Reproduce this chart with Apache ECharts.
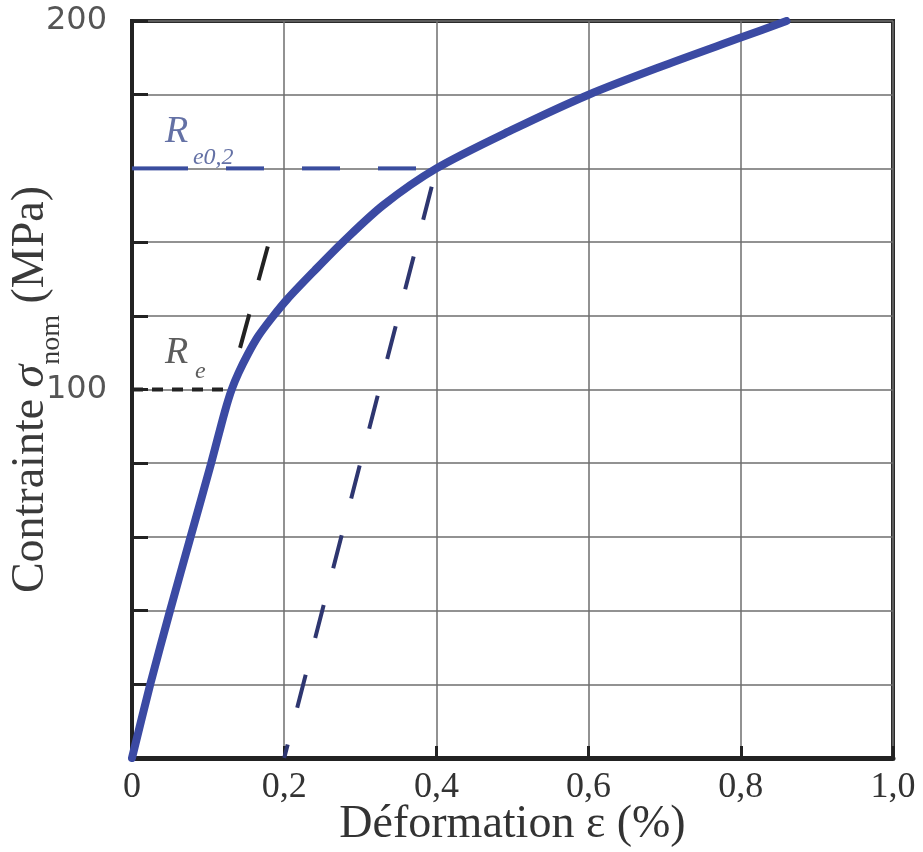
<!DOCTYPE html>
<html>
<head>
<meta charset="utf-8">
<script src="https://cdn.jsdelivr.net/npm/echarts@6/dist/echarts.min.js"></script>
<style>
html,body{margin:0;padding:0;background:#fff;}
#chart{width:923px;height:852px;}
</style>
</head>
<body>
<div id="chart"></div>
<script>
// ---- data ----
const strainPct = [0, 0.024, 0.05, 0.077, 0.104, 0.122, 0.131, 0.140, 0.152, 0.166, 0.184, 0.204, 0.24, 0.277, 0.33, 0.40, 0.50, 0.60, 0.70, 0.80, 0.86];
const stressMPa = [0, 20, 40, 60, 80, 94, 100, 104.5, 109.5, 114.5, 119.5, 124.5, 132.3, 140, 150, 160, 170.5, 180, 188, 195.5, 200];

const offsetLineX = [0.2, 0.4];
const offsetLineY = [0, 160];
const re02LineX = [0, 0.4];
const re02LineY = [160, 160];
const re02SolidX = [0, 0.0237];
const re02SolidY = [160, 160];
const reLineX = [0, 0.13];
const reLineY = [100, 100];
const reOffsetX = [0.142, 0.179];
const reOffsetY = [111.3, 139.2];

const xTickLabels = ['0', '0,2', '0,4', '0,6', '0,8', '1,0'];
const yTickValues = [100, 200];
const yTickLabels = ['100', '200'];

const labelTexts = ['R', 'e0,2', 'R', 'e'];
const labelX = [0.0434, 0.080, 0.0434, 0.0828];
const labelY = [170.0, 162.8, 109.8, 104.9];

const xAxisTitle = 'Déformation ε (%)';

// ---- chart ----
const chart = echarts.init(document.getElementById('chart'), null, {renderer: 'canvas'});

function pairs(xs, ys) { return xs.map((x, i) => [x, ys[i]]); }

const labelStyles = [
  {fontSize: 38, fontStyle: 'italic', color: '#3d4e8e'},
  {fontSize: 24, fontStyle: 'italic', color: '#3d4e8e'},
  {fontSize: 38, fontStyle: 'italic', color: '#333'},
  {fontSize: 24, fontStyle: 'italic', color: '#333'}
];

const option = {
  animation: false,
  backgroundColor: '#fff',
  grid: {left: 132, right: 30, top: 21, bottom: 94, containLabel: false, outerBoundsMode: 'none',
         show: true, borderColor: '#2a2a2a', borderWidth: 4},
  xAxis: {
    type: 'value', min: 0, max: 1, interval: 0.2,
    name: xAxisTitle, nameLocation: 'middle', nameGap: 44, nameMoveOverlap: false,
    nameTextStyle: {fontFamily: 'Liberation Serif', fontSize: 46, color: '#333'},
    axisLine: {show: true, onZero: false, lineStyle: {color: '#222', width: 5}},
    axisTick: {show: true, inside: true, length: 12, lineStyle: {color: '#222', width: 3}},
    axisLabel: {
      formatter: v => xTickLabels[Math.round(v / 0.2)],
      fontFamily: 'Liberation Serif', fontSize: 36, color: '#333', margin: 12
    },
    splitLine: {show: true, lineStyle: {color: '#6e6e6e', width: 1.5}}
  },
  yAxis: {
    type: 'value', min: 0, max: 200, interval: 20,
    name: '{a|Contrainte }{g|σ}{s|nom}{a| (MPa)}', nameLocation: 'middle', nameGap: 74, nameMoveOverlap: false,
    nameTextStyle: {
      fontFamily: 'Liberation Serif', color: '#3a3a3a',
      rich: {
        a: {fontFamily: 'Liberation Serif', fontSize: 46, lineHeight: 50, verticalAlign: 'top', color: '#3a3a3a'},
        g: {fontFamily: 'Liberation Serif', fontSize: 46, fontStyle: 'italic', lineHeight: 50, verticalAlign: 'top', color: '#3a3a3a'},
        s: {fontFamily: 'Liberation Serif', fontSize: 28, lineHeight: 28, padding: [30, 0, 0, 0], verticalAlign: 'top', color: '#3a3a3a'}
      }
    },
    axisLine: {show: true, onZero: false, lineStyle: {color: '#222', width: 4}},
    axisTick: {show: true, inside: true, length: 16, lineStyle: {color: '#222', width: 3}},
    axisLabel: {
      formatter: v => { const i = yTickValues.indexOf(Math.round(v)); return i >= 0 ? yTickLabels[i] : ''; },
      fontFamily: 'DejaVu Sans', fontSize: 32, color: '#555', margin: 25
    },
    splitLine: {show: true, lineStyle: {color: '#6e6e6e', width: 1.5}}
  },
  series: [
    {type: 'line', data: pairs(re02SolidX, re02SolidY), symbol: 'none', z: 3,
     lineStyle: {color: '#3a4d9e', width: 4}},
    {type: 'line', data: pairs(re02LineX, re02LineY), symbol: 'none', z: 3,
     lineStyle: {color: '#3a4d9e', width: 4, type: [38, 38], dashOffset: 58}},
    {type: 'line', data: pairs(offsetLineX, offsetLineY), symbol: 'none', z: 3,
     lineStyle: {color: '#2e3670', width: 4, type: [34, 38], dashOffset: 20}},
    {type: 'line', data: pairs(reLineX, reLineY), symbol: 'none', z: 3,
     lineStyle: {color: '#222', width: 4, type: [11, 9]}},
    {type: 'line', data: pairs(reOffsetX, reOffsetY), symbol: 'none', z: 3,
     lineStyle: {color: '#222', width: 4, type: [35, 35]}},
    {type: 'line', data: pairs(strainPct, stressMPa), symbol: 'none', smooth: 0.3, z: 5,
     lineStyle: {color: '#3b4aa3', width: 8, cap: 'round'}},
    {type: 'scatter', symbolSize: 0, z: 6,
     data: labelTexts.map((t, i) => ({
       value: [labelX[i], labelY[i]],
       label: Object.assign({show: true, formatter: t, position: 'right', distance: 0,
                             fontFamily: 'Liberation Serif'}, labelStyles[i])
     }))}
  ]
};

chart.setOption(option);
</script>
</body>
</html>
